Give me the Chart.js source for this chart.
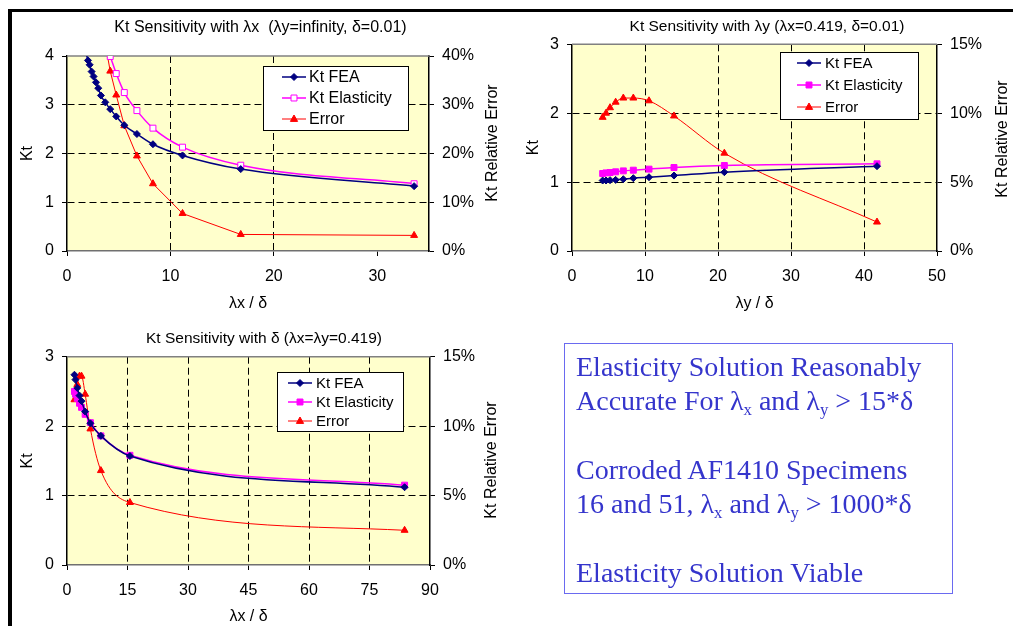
<!DOCTYPE html>
<html>
<head>
<meta charset="utf-8">
<script src="https://cdn.jsdelivr.net/npm/chart.js"></script>
<style>
  html, body { margin: 0; padding: 0; background: #fff; }
  body { width: 1013px; height: 626px; position: relative; overflow: hidden; font-family: "Liberation Sans", Arial, sans-serif; }
  canvas { position: absolute; }
  #c1 { left: 0; top: 0; }
  #c2 { left: 506px; top: 0; }
  #c3 { left: 0; top: 322px; }
  .frame { position: absolute; left: 8px; top: 9px; width: 1010px; height: 620px; border-top: 3px solid #000; border-left: 4px solid #000; pointer-events: none; }
  .note {
    position: absolute; left: 564px; top: 343px; width: 389px; height: 251px;
    border: 1.5px solid #6a6af0;
    font-family: "Liberation Serif", "Times New Roman", serif; font-size: 28px; line-height: 34.3px;
    color: #3535cc; padding: 6px 0 0 11px; box-sizing: border-box; white-space: nowrap;
  }
  .note sub { font-size: 60%; vertical-align: -0.3em; line-height: 0; }
</style>
</head>
<body>
<canvas id="c1" width="506" height="322"></canvas>
<canvas id="c2" width="507" height="322"></canvas>
<canvas id="c3" width="506" height="304"></canvas>
<div class="frame"></div>
<div class="note">
  Elasticity Solution Reasonably<br>
  Accurate For λ<sub>x</sub> and λ<sub>y</sub> &gt; 15*δ<br>
  <br>
  Corroded AF1410 Specimens<br>
  16 and 51, λ<sub>x</sub> and λ<sub>y</sub> &gt; 1000*δ<br>
  <br>
  Elasticity Solution Viable
</div>
<script>
// ---- chart 1: Kt vs lambda_x / delta ----
const c1FeaX = [1.80, 2.03, 2.19, 2.38, 2.57, 2.80, 3.02, 3.28, 3.70, 4.18, 4.76, 5.54, 6.76, 8.31, 11.17, 16.80, 33.56];
const c1Fea = [4.10, 3.91, 3.82, 3.68, 3.58, 3.46, 3.34, 3.19, 3.05, 2.91, 2.76, 2.58, 2.40, 2.19, 1.96, 1.68, 1.33];
const c1X = [3.70, 4.18, 4.76, 5.54, 6.76, 8.31, 11.17, 16.80, 33.56];
const c1Elast = [4.25, 3.99, 3.64, 3.25, 2.88, 2.52, 2.13, 1.76, 1.38];
const c1Err = [42.5, 36.9, 32.0, 25.7, 19.5, 13.8, 7.7, 3.4, 3.2];
const c1XTicks = [0, 10, 20, 30];
const c1YTicks = [0, 1, 2, 3, 4];
const c1Y2Ticks = [0, 10, 20, 30, 40];

// ---- chart 2: Kt vs lambda_y / delta ----
const c2X = [4.20, 4.66, 5.21, 5.98, 7.03, 8.40, 10.55, 13.97, 20.87, 41.78];
const c2Fea = [1.023, 1.023, 1.028, 1.032, 1.042, 1.057, 1.071, 1.095, 1.144, 1.231];
const c2Elast = [1.125, 1.134, 1.139, 1.149, 1.163, 1.173, 1.188, 1.212, 1.241, 1.265];
const c2Err = [9.7, 10.0, 10.4, 10.8, 11.1, 11.1, 10.9, 9.8, 7.1, 2.1];
const c2XTicks = [0, 10, 20, 30, 40, 50];
const c2YTicks = [0, 1, 2, 3];
const c2Y2Ticks = [0, 5, 10, 15];

// ---- chart 3: Kt vs delta ----
const c3X = [1.85, 2.10, 2.55, 3.10, 3.60, 4.50, 5.80, 8.40, 15.60, 83.70];
const c3Fea = [2.74, 2.67, 2.55, 2.44, 2.36, 2.21, 2.04, 1.86, 1.57, 1.12];
const c3Elast = [2.50, 2.46, 2.40, 2.33, 2.27, 2.17, 2.05, 1.86, 1.58, 1.15];
const c3Err = [11.9, 12.4, 13.0, 13.6, 13.6, 12.3, 9.8, 6.8, 4.5, 2.5];
const c3XTicks = [0, 15, 30, 45, 60, 75, 90];
const c3YTicks = [0, 1, 2, 3];
const c3Y2Ticks = [0, 5, 10, 15];

const NAVY = "#000080", MAGENTA = "#FF00FF", RED = "#FF0000";
const FONT = "'Liberation Sans', Arial, sans-serif";
const pts = (xs, ys) => xs.map((x, i) => ({ x: x, y: ys[i] }));

function feaSet(xs, ys) {
  return { label: "Kt FEA", data: pts(xs, ys), borderColor: NAVY, backgroundColor: NAVY,
    borderWidth: 1.5, pointStyle: "rectRot", pointRadius: 3.5, pointBorderWidth: 1,
    showLine: true, cubicInterpolationMode: "monotone", yAxisID: "y" };
}
function elastSet(xs, ys, hollow) {
  return { label: "Kt Elasticity", data: pts(xs, ys), borderColor: MAGENTA,
    backgroundColor: hollow ? "rgba(0,0,0,0)" : MAGENTA, pointBackgroundColor: hollow ? "#FFFFFF" : MAGENTA,
    borderWidth: 1.5, pointStyle: "rect", pointRadius: 4.2, pointBorderWidth: 1,
    showLine: true, cubicInterpolationMode: "monotone", yAxisID: "y" };
}
function errSet(xs, ys, smooth) {
  return { label: "Error", data: pts(xs, ys), borderColor: RED, backgroundColor: RED,
    borderWidth: 1, pointStyle: "triangle", pointRadius: 4, pointBorderWidth: 1,
    showLine: true, cubicInterpolationMode: smooth ? "monotone" : "default", tension: 0, yAxisID: "y2" };
}

// yellow plot background + grey top frame line
const plotBg = {
  id: "plotBg",
  beforeDraw(chart) {
    const a = chart.chartArea, ctx = chart.ctx;
    ctx.save();
    ctx.fillStyle = "#FFFFCC";
    ctx.fillRect(a.left, a.top, a.right - a.left, a.bottom - a.top);
    ctx.restore();
  },
  beforeDatasetsDraw(chart) {
    const a = chart.chartArea, ctx = chart.ctx;
    ctx.save();
    ctx.strokeStyle = "#808080";
    ctx.lineWidth = 1.5;
    ctx.beginPath();
    ctx.moveTo(a.left, a.top);
    ctx.lineTo(a.right, a.top);
    ctx.stroke();
    ctx.restore();
  }
};

function marker(ctx, style, x, y, r, fill, stroke) {
  ctx.beginPath();
  if (style === "rectRot") {
    ctx.moveTo(x, y - r); ctx.lineTo(x + r, y); ctx.lineTo(x, y + r); ctx.lineTo(x - r, y);
  } else if (style === "rect") {
    const s = r * Math.SQRT1_2;
    ctx.rect(x - s, y - s, 2 * s, 2 * s);
  } else {
    ctx.moveTo(x, y - r); ctx.lineTo(x + r * 0.9, y + r * 0.6); ctx.lineTo(x - r * 0.9, y + r * 0.6);
  }
  ctx.closePath();
  ctx.fillStyle = fill; ctx.fill();
  ctx.strokeStyle = stroke; ctx.lineWidth = 1; ctx.stroke();
}

// boxed legend inside the plot, Excel style
const boxLegend = {
  id: "boxLegend",
  afterDraw(chart, args, o) {
    const ctx = chart.ctx;
    ctx.save();
    ctx.fillStyle = "#FFFFFF";
    ctx.fillRect(o.x, o.y, o.w, o.h);
    ctx.strokeStyle = "#000"; ctx.lineWidth = 1;
    ctx.strokeRect(o.x + 0.5, o.y + 0.5, o.w, o.h);
    chart.data.datasets.forEach((ds, i) => {
      const y = o.rows[i];
      ctx.strokeStyle = ds.borderColor; ctx.lineWidth = ds.borderWidth;
      ctx.beginPath(); ctx.moveTo(o.lineX, y); ctx.lineTo(o.lineX + 24, y); ctx.stroke();
      marker(ctx, ds.pointStyle, o.lineX + 12, y, ds.pointRadius, ds.pointBackgroundColor || ds.backgroundColor, ds.borderColor);
      ctx.fillStyle = "#000";
      ctx.font = o.size + "px " + FONT;
      ctx.textBaseline = "middle";
      ctx.fillText(ds.label, o.textX, y + 1);
    });
    ctx.restore();
  }
};

// right axis title reads bottom-to-top like the left one
const rightTitle = {
  id: "rightTitle",
  afterDraw(chart, args, o) {
    const ctx = chart.ctx;
    ctx.save();
    ctx.translate(o.x, o.y);
    ctx.rotate(-Math.PI / 2);
    ctx.fillStyle = "#000";
    ctx.font = "16px " + FONT;
    ctx.textAlign = "center";
    ctx.textBaseline = "middle";
    ctx.fillText(o.text, 0, 0);
    ctx.restore();
  }
};

function makeChart(id, c) {
  const f = { family: FONT, size: 16 };
  const inner = (vals) => (ctx) => {
    const v = ctx.tick ? ctx.tick.value : null;
    return v === vals[0] || v === vals[vals.length - 1] ? "rgba(0,0,0,0)" : "#000";
  };
  return new Chart(document.getElementById(id), {
    type: "scatter",
    data: { datasets: c.datasets },
    plugins: [plotBg, boxLegend, rightTitle],
    options: {
      responsive: false,
      animation: false,
      layout: { padding: { left: c.padLeft, right: 0, top: 0, bottom: 0 } },
      plugins: {
        legend: { display: false },
        tooltip: { enabled: false },
        title: { display: true, text: c.title, color: "#000", font: { family: FONT, size: c.titleSize, weight: "normal" },
          padding: { top: c.titleTop, bottom: c.titleBottom } },
        boxLegend: c.legend,
        rightTitle: { text: "Kt Relative Error", x: c.rtX, y: c.rtY }
      },
      scales: {
        x: {
          type: "linear", min: c.xMin, max: c.xMax,
          afterBuildTicks: (s) => { s.ticks = c.xTicks.map((v) => ({ value: v })); },
          afterFit: (s) => { s.height = c.xH; },
          ticks: { color: "#000", font: f, padding: 11, maxRotation: 0, autoSkip: false },
          grid: { color: inner(c.xTicks), tickColor: "#000", tickLength: 5, lineWidth: 1, tickBorderDash: [] },
          border: { color: "#707070", width: 1.5, dash: [7, 4] },
          title: { display: true, text: c.xTitle, color: "#000", font: f, padding: { top: 0, bottom: c.xTitlePad } }
        },
        y: {
          position: "left", min: 0, max: c.yTicks[c.yTicks.length - 1],
          afterBuildTicks: (s) => { s.ticks = c.yTicks.map((v) => ({ value: v })); },
          afterFit: (s) => { s.width = c.yW; },
          ticks: { color: "#000", font: f, padding: 8 },
          grid: { color: inner(c.yTicks), tickColor: "#000", tickLength: 5, lineWidth: 1, tickBorderDash: [] },
          border: { color: "#000", width: 1.5, dash: [7, 4] },
          title: { display: true, text: "Kt", color: "#000", font: f, padding: { top: c.yTitlePad, bottom: 0 } }
        },
        y2: {
          position: "right", min: 0, max: c.y2Ticks[c.y2Ticks.length - 1],
          afterBuildTicks: (s) => { s.ticks = c.y2Ticks.map((v) => ({ value: v })); },
          afterFit: (s) => { s.width = c.y2W; },
          ticks: { color: "#000", font: f, padding: 8, callback: (v) => v + "%" },
          grid: { drawOnChartArea: false, tickColor: "#000", tickLength: 5, tickBorderDash: [] },
          border: { color: "#000", width: 1.5 }
        }
      }
    }
  });
}

makeChart("c1", {
  title: "Kt Sensitivity with \u03bbx  (\u03bby=infinity, \u03b4=0.01)", titleSize: 16,
  xTitle: "\u03bbx / \u03b4",
  datasets: [feaSet(c1FeaX, c1Fea), elastSet(c1X, c1Elast, true), errSet(c1X, c1Err, false)],
  xMin: 0, xMax: 35, xTicks: c1XTicks, yTicks: c1YTicks, y2Ticks: c1Y2Ticks,
  padLeft: 15, yW: 52, y2W: 77, xH: 71, titleTop: 18, titleBottom: 18.8, xTitlePad: 9, yTitlePad: 3,
  rtX: 493, rtY: 143,
  legend: { x: 263, y: 66, w: 145, h: 64, rows: [77, 98, 119], lineX: 282, textX: 309, size: 16 }
});

makeChart("c2", {
  title: "Kt Sensitivity with \u03bby (\u03bbx=0.419, \u03b4=0.01)", titleSize: 15.5,
  xTitle: "\u03bby / \u03b4",
  datasets: [feaSet(c2X, c2Fea), elastSet(c2X, c2Elast, false), errSet(c2X, c2Err, true)],
  xMin: 0, xMax: 50, xTicks: c2XTicks, yTicks: c2YTicks, y2Ticks: c2Y2Ticks,
  padLeft: 15, yW: 51, y2W: 76, xH: 71, titleTop: 17.5, titleBottom: 8.2, xTitlePad: 9, yTitlePad: 3,
  rtX: 497, rtY: 139,
  legend: { x: 274, y: 52, w: 138, h: 67, rows: [63, 85, 107], lineX: 291, textX: 319, size: 15 }
});

makeChart("c3", {
  title: "Kt Sensitivity with \u03b4 (\u03bbx=\u03bby=0.419)", titleSize: 15.5,
  xTitle: "\u03bbx / \u03b4",
  datasets: [feaSet(c3X, c3Fea), elastSet(c3X, c3Elast, false), errSet(c3X, c3Err, true)],
  xMin: 0, xMax: 90, xTicks: c3XTicks, yTicks: c3YTicks, y2Ticks: c3Y2Ticks,
  padLeft: 22, yW: 45, y2W: 76, xH: 61, titleTop: 7.5, titleBottom: 8.6, xTitlePad: 0, yTitlePad: -4,
  rtX: 492, rtY: 138,
  legend: { x: 277, y: 50, w: 126, h: 59, rows: [61, 80, 99], lineX: 288, textX: 316, size: 15 }
});
</script>
</body>
</html>
